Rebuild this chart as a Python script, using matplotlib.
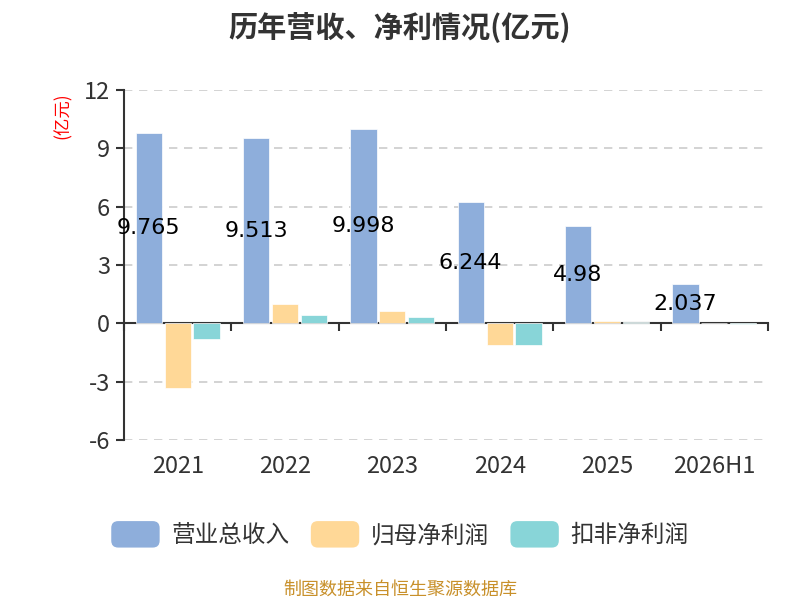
import matplotlib
matplotlib.use("Agg")
import matplotlib.pyplot as plt
import numpy as np
from matplotlib.patches import FancyBboxPatch
from matplotlib.legend_handler import HandlerPatch
import matplotlib.transforms as mtransforms

plt.rcParams['font.family'] = ['Noto Sans CJK SC', 'DejaVu Sans']

categories = ['2021', '2022', '2023', '2024', '2025', '2026H1']
revenue = [9.765, 9.513, 9.998, 6.244, 4.98, 2.037]
net_profit = [-3.32, 0.97, 0.62, -1.13, 0.10, 0.01]
deducted_profit = [-0.80, 0.41, 0.31, -1.13, 0.08, -0.01]
series_names = ['营业总收入', '归母净利润', '扣非净利润']
colors = ['#8eaedb', '#ffd897', '#88d5d8']
yticks = [-6, -3, 0, 3, 6, 9, 12]

fig = plt.figure(figsize=(8, 6), dpi=100)
ax = fig.add_axes([0.155, 0.2667, 0.805, 0.5833])

x = np.arange(len(categories))
w = 0.245
step = 0.27
txt = '#333333'
for i, (vals, c) in enumerate(zip([revenue, net_profit, deducted_profit], colors)):
    ax.bar(x + (i - 1) * step, vals, width=w, color=c, zorder=3, label=series_names[i],
           edgecolor='white', linewidth=0.5)

for xi, v in zip(x, revenue):
    ax.text(xi - step, v / 2, f'{v:g}', ha='center', va='center',
            fontsize=16, color='black', zorder=5, family=['DejaVu Sans'])

ax.set_xlim(-0.5, len(categories) - 0.5)
ax.set_ylim(-6, 12)
ax.set_yticks(yticks)
ax.set_yticklabels([str(t) for t in yticks], fontsize=17, color=txt)
ax.grid(axis='y', linestyle=(0, (5, 4)), color='#cccccc', linewidth=1.2, zorder=0)
for s in ['top', 'right']:
    ax.spines[s].set_visible(False)
ax.spines['left'].set_color(txt)
ax.spines['left'].set_linewidth(1.5)
ax.spines['bottom'].set_position(('data', 0))
ax.spines['bottom'].set_color(txt)
ax.spines['bottom'].set_linewidth(1.5)
ax.tick_params(axis='y', length=6, width=1.5, color=txt, pad=4)
ax.set_xticks(np.arange(len(categories) + 1) - 0.5)
ax.set_xticklabels([])
ax.tick_params(axis='x', length=6, width=1.5, color=txt, direction='out')

trans = mtransforms.blended_transform_factory(ax.transData, ax.transAxes)
for xi, c in zip(x, categories):
    ax.text(xi, -0.075, c, transform=trans, ha='center', va='center', fontsize=17, color=txt)

fig.text(0.5, 0.955, '历年营收、净利情况(亿元)', ha='center', va='center', fontsize=21,
         fontweight='bold', color=txt)
fig.text(0.078, 0.808, '(亿元)', rotation=90, ha='center', va='center', fontsize=12.5, color='red')


class RoundHandler(HandlerPatch):
    def create_artists(self, legend, orig_handle, xdescent, ydescent, width, height, fontsize, trans):
        p = FancyBboxPatch((-xdescent, -ydescent - 0.15 * height), width, height * 1.3,
                           boxstyle='round,pad=0,rounding_size=5',
                           facecolor=orig_handle.get_facecolor(), edgecolor='none', transform=trans)
        return [p]


handles, labels = ax.get_legend_handles_labels()
patches = [h.patches[0] for h in handles]
leg = fig.legend(patches, labels, loc='center', bbox_to_anchor=(0.5, 0.107), ncol=3, frameon=False,
                 fontsize=17, handler_map={p: RoundHandler() for p in patches},
                 handlelength=2.05, handleheight=0.95, handletextpad=0.5, columnspacing=0.9,
                 labelcolor=txt)

fig.text(0.5, 0.018, '制图数据来自恒生聚源数据库', ha='center', va='center', fontsize=13, color='#c8902a')

fig.savefig('out.png', dpi=100)
